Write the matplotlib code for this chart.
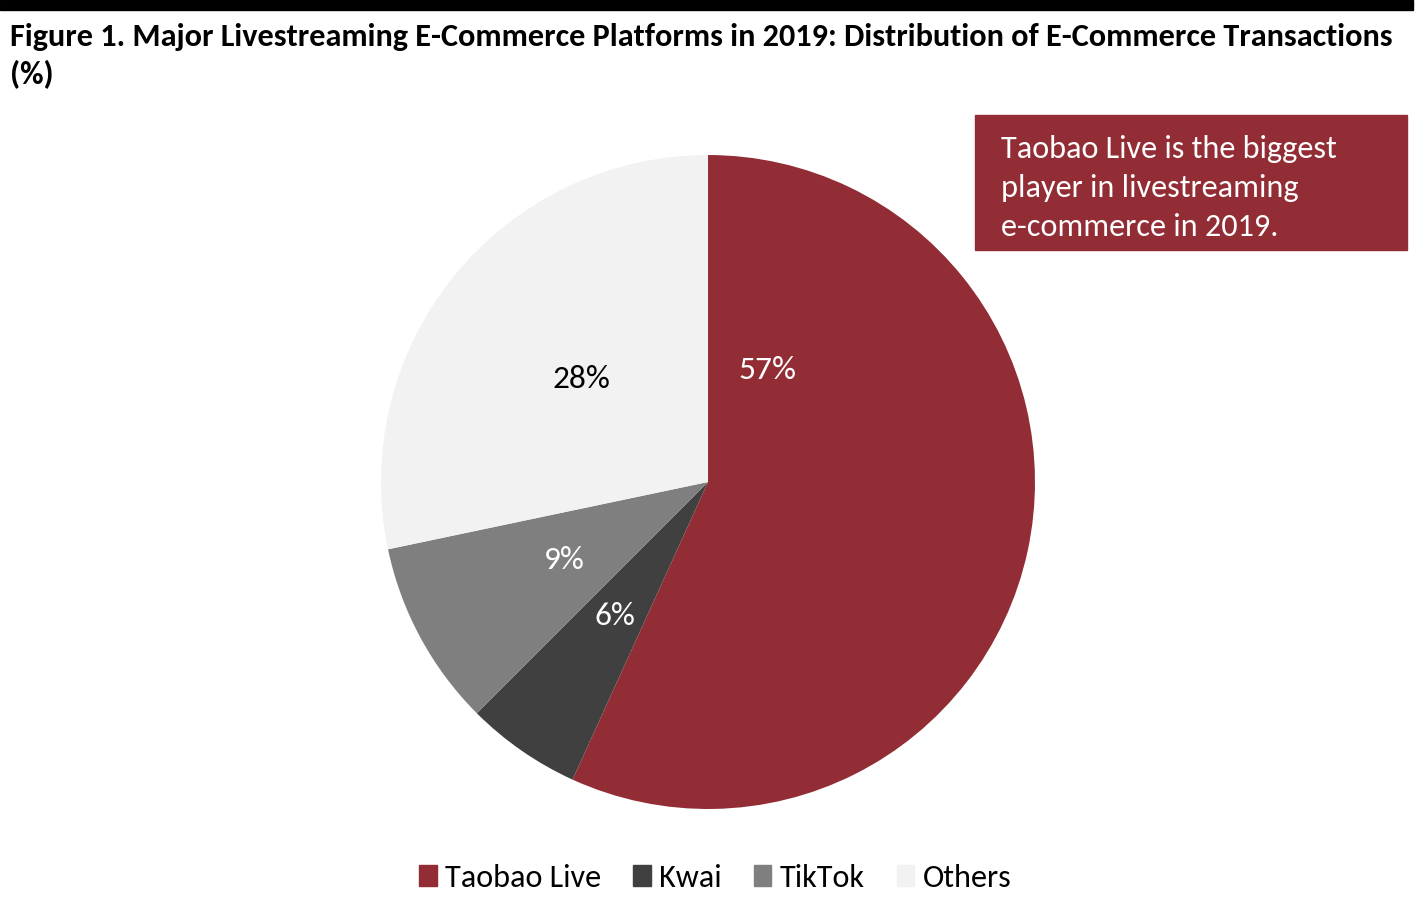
import matplotlib.pyplot as plt
import matplotlib.patches as mpatches

# -------------------- Data --------------------------

PLATFORMS = ["Taobao Live", "Kwai", "TikTok", "Others"]
SHARES = [56.8, 5.7, 9.2, 28.3]
COLORS = ["#922D35", "#404040", "#7F7F7F", "#F2F2F2"]
LABEL_COLORS = ["white", "white", "white", "black"]

TITLE = ("Figure 1. Major Livestreaming E-Commerce Platforms in 2019: "
         "Distribution of E-Commerce Transactions\n(%)")
NOTE = "Taobao Live is the biggest\nplayer in livestreaming\ne-commerce in 2019."

plt.rcParams["font.family"] = ["Carlito", "Lato", "DejaVu Sans"]

fig = plt.figure(figsize=(14.2, 9.14), dpi=100)

# top black rule
fig.add_artist(mpatches.Rectangle((0, 1 - 10 / 914), 1413 / 1420, 10 / 914,
                                  transform=fig.transFigure, color="black"))

fig.text(10 / 1420, 1 - 56 / 914, TITLE, ha="left", va="center",
         fontsize=23.2, fontweight="bold", linespacing=1.4)

ax = fig.add_axes([0.2683, 0.1149, 0.4606, 0.7155])
wedges, texts, autotexts = ax.pie(
    SHARES, colors=COLORS, startangle=90, counterclock=False,
    autopct="%.0f%%", pctdistance=0.5, radius=1,
    textprops={"fontsize": 24},
)
for t, c in zip(autotexts, LABEL_COLORS):
    t.set_color(c)
# Taobao label sits in the upper part of its wedge
autotexts[0].set_position((0.183, 0.343))
ax.set_xlim(-1, 1)
ax.set_ylim(-1, 1)
ax.set_aspect("equal")

# annotation box
fig.add_artist(mpatches.Rectangle((975 / 1420, 1 - 250 / 914), 432 / 1420, 135 / 914,
                                  transform=fig.transFigure, color="#922D35"))
fig.text(1001 / 1420, 1 - 188 / 914, NOTE, ha="left", va="center",
         fontsize=23.2, color="white", linespacing=1.47)

handles = [mpatches.Patch(color=c, label=p) for p, c in zip(PLATFORMS, COLORS)]
fig.legend(handles=handles, loc="center", bbox_to_anchor=(715 / 1420, 1 - 878 / 914),
           ncol=4, frameon=False, fontsize=23.2, handlelength=0.55, handleheight=0.6,
           handletextpad=0.25, columnspacing=1.0)

fig.savefig("out.png", dpi=100)
